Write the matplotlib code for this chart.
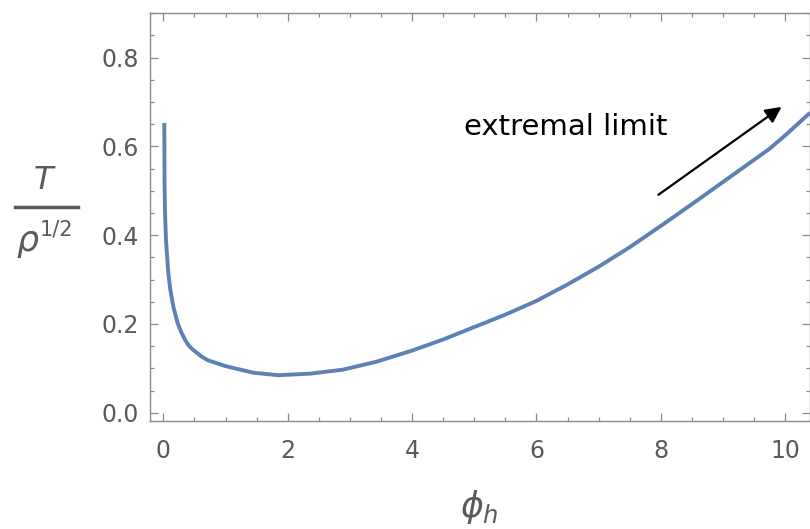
import numpy as np
import matplotlib.pyplot as plt
from matplotlib.ticker import MultipleLocator

# temperature curve T / rho^(1/2) against horizon value phi_h
phi_h = [0.016, 0.018, 0.02, 0.025, 0.03, 0.043, 0.061, 0.08, 0.113, 0.161, 0.23,
         0.29, 0.35, 0.41, 0.48, 0.62, 0.72, 0.86, 1.0, 1.15, 1.45, 1.85, 2.36, 2.89,
         3.43, 4.0, 4.5, 5.0, 5.5, 6.0, 6.5, 7.0, 7.5, 8.0, 8.5, 9.0, 9.5, 9.75,
         10.0, 10.4]
T_rho = [0.653, 0.58, 0.52, 0.47, 0.44, 0.39, 0.352, 0.315, 0.277, 0.239, 0.202,
         0.181, 0.164, 0.151, 0.1415, 0.126, 0.118, 0.1115, 0.105, 0.100, 0.090, 0.0845,
         0.088, 0.097, 0.115, 0.140, 0.165, 0.193, 0.221, 0.252, 0.289, 0.329, 0.373,
         0.421, 0.47, 0.52, 0.57, 0.595, 0.625, 0.676]

x_ticks = [0, 2, 4, 6, 8, 10]
y_ticks = [0.0, 0.2, 0.4, 0.6, 0.8]

W, H = 810, 529
grey = "#5a5a5a"
fig = plt.figure(figsize=(W / 100, H / 100), dpi=100)
ax = fig.add_axes([150 / W, 108 / H, (809.5 - 150) / W, (421 - 13.3) / H])

ax.plot(phi_h, T_rho, color="#5E81B5", lw=2.8, solid_capstyle="butt",
        solid_joinstyle="round")

ax.set_xlim(-0.214, 10.39)
ax.set_ylim(-0.0187, 0.9)
ax.set_xticks(x_ticks)
ax.set_yticks(y_ticks)
ax.set_yticklabels([f"{v:.1f}" for v in y_ticks])
ax.xaxis.set_minor_locator(MultipleLocator(0.5))
ax.yaxis.set_minor_locator(MultipleLocator(0.05))

for s in ax.spines.values():
    s.set_color("#8a8a8a")
    s.set_linewidth(1.0)
ax.tick_params(which="both", direction="in", top=True, right=True,
               color="#8a8a8a", width=0.9)
ax.tick_params(which="major", length=5.5)
ax.tick_params(which="minor", length=3.2)
ax.tick_params(axis="x", which="major", pad=13, labelsize=17, labelcolor=grey)
ax.tick_params(axis="y", which="major", pad=8, labelsize=17, labelcolor=grey)

# arrow and note
ax.annotate("", xy=(9.94, 0.689), xytext=(7.96, 0.491),
            arrowprops=dict(arrowstyle="-|>", color="black", lw=1.6,
                            mutation_scale=24, shrinkA=0, shrinkB=0))
ax.text(6.47, 0.643, "extremal limit", ha="center", va="center",
        fontsize=21, color="black")

# x axis label
plt.rcParams["mathtext.fontset"] = "dejavusans"
fig.text(479 / W, 1 - 507 / H, r"$\phi_h$", ha="center", va="center",
         fontsize=25, color=grey)

# y axis label drawn as a stacked fraction
fig.text(43 / W, 1 - 181 / H, "T", ha="center", va="center", fontsize=23,
         style="italic", color=grey)
fig.add_artist(plt.Line2D([15 / W, 78 / W], [1 - 206.7 / H, 1 - 206.7 / H],
                          color=grey, lw=2.5))
fig.text(27 / W, 1 - 241 / H, "ρ", ha="center", va="center", fontsize=25,
         style="italic", color=grey)
fig.text(56 / W, 1 - 230 / H, "1/2", ha="center", va="center", fontsize=15,
         color=grey)

fig.savefig("out.png", dpi=100)
